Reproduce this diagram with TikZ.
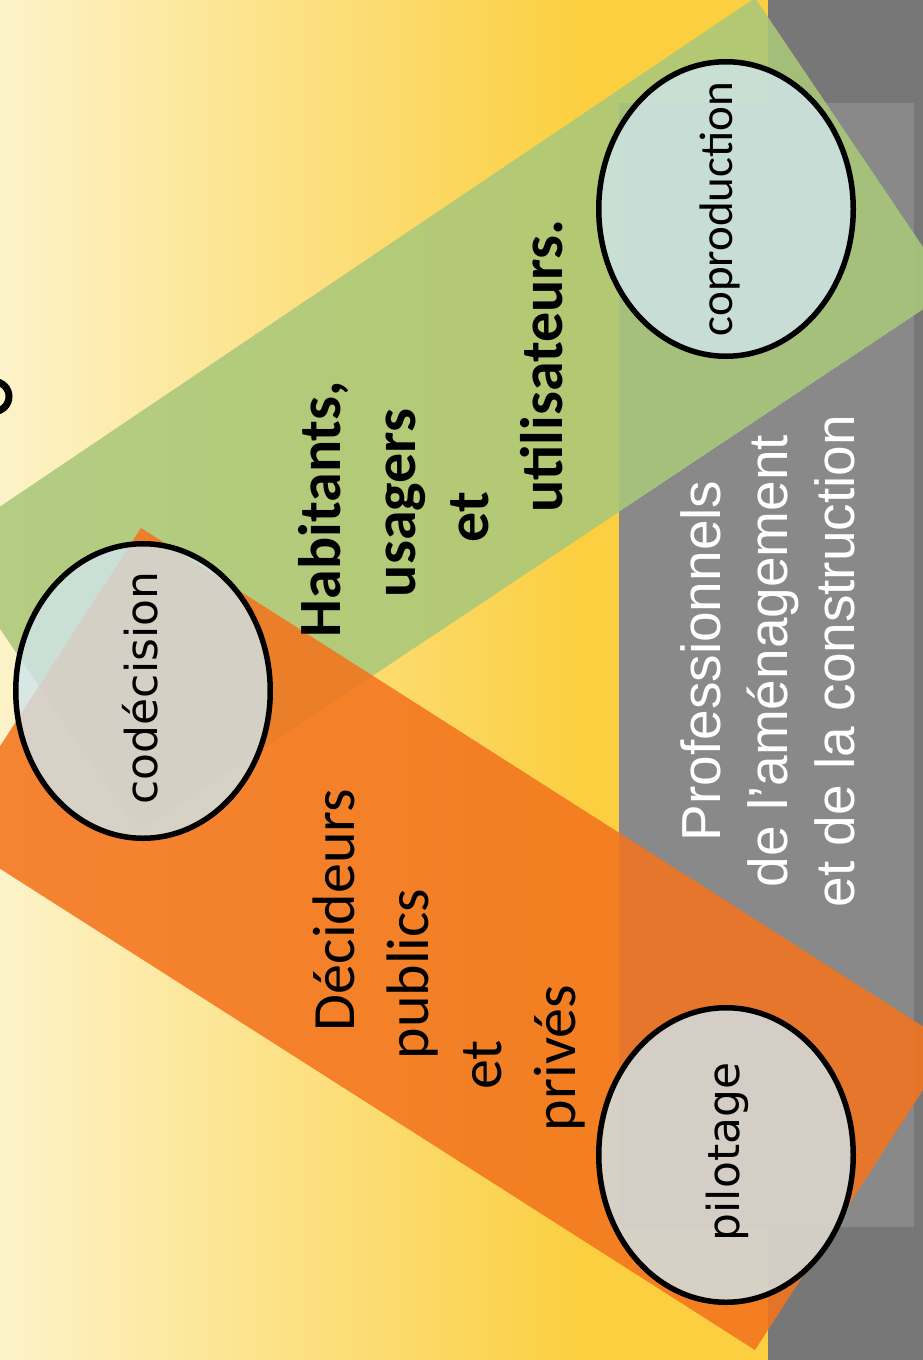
\documentclass[tikz,border=0pt]{standalone}
\usepackage{fontspec}
\usepackage{tikz}
\usetikzlibrary{shapes.geometric}
\usepackage{xcolor}
\newfontfamily\carlitofont{Carlito}
\newfontfamily\dejavufont{DejaVu Sans}
\newfontfamily\liberationfont{Liberation Sans}
\definecolor{ColPale}{RGB}{253,243,201}
\definecolor{ColYellow}{RGB}{251,207,64}
\definecolor{ColGreen}{RGB}{170,200,122}
\definecolor{ColOrange}{RGB}{243,116,30}
\definecolor{ColGray}{RGB}{137,137,137}
\definecolor{ColDark}{RGB}{119,119,119}
\definecolor{ColDisc}{RGB}{208,229,237}
\tikzstyle{GreenBand}=[fill=ColGreen,fill opacity=.88]
\tikzstyle{OrangeBand}=[fill=ColOrange,fill opacity=.88]
\tikzstyle{RoleDisc}=[ellipse,draw=black,line width=5.5pt,fill=ColDisc,fill opacity=.8,
minimum width=254.5pt,minimum height=294.5pt,inner sep=0pt]
\tikzstyle{RoleText}=[rotate=90,anchor=base,inner sep=0pt,
font=\dejavufont\fontsize{44}{53}\selectfont]
\tikzstyle{ActorText}=[rotate=90,anchor=base,inner sep=0pt,
font=\carlitofont\fontsize{60}{74}\selectfont]
\tikzstyle{ProText}=[rotate=90,anchor=base,inner sep=0pt,text=white,
font=\liberationfont\fontsize{55}{67}\selectfont]

\begin{document}
\begin{tikzpicture}[x=1pt,y=-1pt]
  \useasboundingbox (0,0) rectangle (923,1360);
  \clip (0,0) rectangle (923,1360);
  % fond
  \fill[left color=ColPale,right color=ColYellow] (0,0) rectangle (580,1360);
  \fill[ColYellow] (579,0) rectangle (768,1360);
  \fill[ColDark] (768,0) rectangle (923,1360);
  \fill[ColGray] (619,103) rectangle (914,1227);
  \draw[line width=7pt] (-6,396.5) ++(-90:15) arc[start angle=-90,end angle=90,radius=15];
  % bandes
  \coordinate (g1) at (755,-2);
  \coordinate (g2) at (952,290);
  \coordinate (g3) at (138,832);
  \coordinate (g4) at (-57,545);
  \coordinate (o1) at (141,528);
  \coordinate (o2) at (952,1045);
  \coordinate (o3) at (755,1350);
  \coordinate (o4) at (-56,833);
  \fill[GreenBand] (g1)--(g2)--(g3)--(g4)--cycle;
  \fill[OrangeBand] (o1)--(o2)--(o3)--(o4)--cycle;
  % ellipses
  \node[RoleDisc] (copro) at (726,209) {};
  \node[RoleDisc] (codec) at (143,691) {};
  \node[RoleDisc] (pilot) at (726,1155) {};
  \node[RoleText,font=\carlitofont\fontsize{47}{56}\selectfont] (coproT) at (732,209) {coproduction};
  \node[RoleText] (codecT) at (157,688) {codécision};
  \node[RoleText] (pilotT) at (739,1152) {pilotage};
  % habitants
  \node[ActorText,font=\carlitofont\bfseries\fontsize{60}{74}\selectfont] (hab1) at (340,509) {Habitants,};
  \node[ActorText,font=\carlitofont\bfseries\fontsize{60}{74}\selectfont] (hab2) at (415,503) {usagers};
  \node[ActorText,font=\carlitofont\bfseries\fontsize{60}{74}\selectfont] (hab3) at (488,517) {et};
  \node[ActorText,font=\carlitofont\bfseries\fontsize{60}{74}\selectfont] (hab4) at (562,366) {utilisateurs.};
  % decideurs
  \node[ActorText] (dec1) at (354,910) {Décideurs};
  \node[ActorText] (dec2) at (428,974) {publics};
  \node[ActorText] (dec3) at (501,1065) {et};
  \node[ActorText] (dec4) at (575,1058) {privés};
  % professionnels
  \node[ProText] (pro1) at (720,661) {Professionnels};
  \node[ProText] (pro2) at (787,661) {de l’aménagement};
  \node[ProText] (pro3) at (854,661) {et de la construction};
\end{tikzpicture}
\end{document}
